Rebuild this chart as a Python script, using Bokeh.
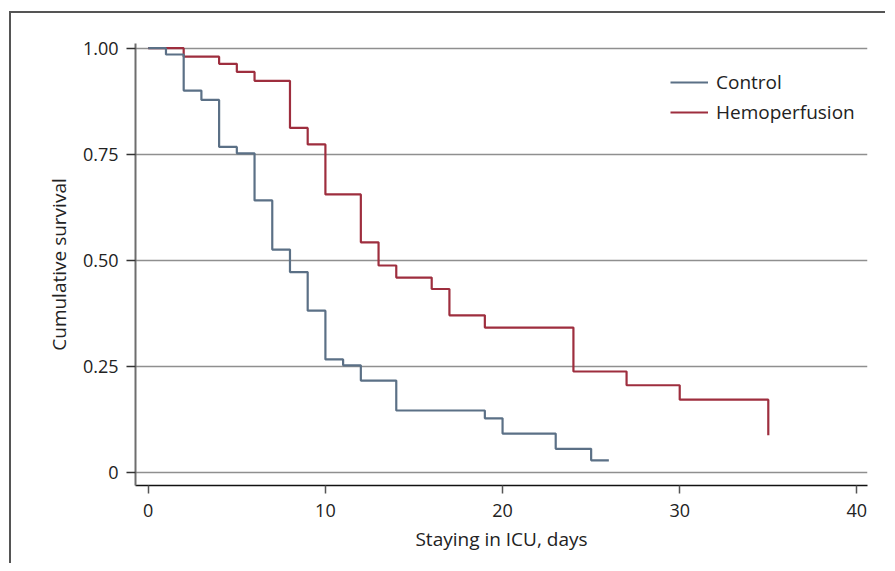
from bokeh.plotting import figure
from bokeh.models import FixedTicker, Range1d, Legend, LegendItem
from bokeh.embed import file_html
from bokeh.resources import INLINE

# Data
control_days = [0, 1, 2, 3, 4, 5, 6, 7, 8, 9, 10, 11, 12, 14, 19, 20, 23, 25, 26]
control_surv = [1.0, 0.985, 0.90, 0.878, 0.767, 0.752, 0.641, 0.525, 0.472, 0.381,
                0.266, 0.252, 0.216, 0.1455, 0.127, 0.091, 0.055, 0.028, 0.028]
hemo_days = [0, 2, 4, 5, 6, 8, 9, 10, 12, 13, 14, 16, 17, 19, 24, 27, 30, 35]
hemo_surv = [1.0, 0.980, 0.963, 0.944, 0.923, 0.812, 0.773, 0.655, 0.542, 0.4875,
             0.459, 0.432, 0.370, 0.341, 0.2375, 0.205, 0.171, 0.087]
x_ticks = [0, 10, 20, 30, 40]
y_ticks = [0, 0.25, 0.5, 0.75, 1.0]
y_tick_labels = {0: "0", 0.25: "0.25", 0.5: "0.50", 0.75: "0.75", 1.0: "1.00"}
series_names = ["Control", "Hemoperfusion"]

FONT = "Open Sans"
TXT = "#222222"
BLUE = "#5b7086"
RED = "#9e2e3e"

p = figure(width=876, height=552, output_backend="svg", toolbar_location=None,
           x_range=Range1d(-0.72, 40.6), y_range=Range1d(-0.0314, 1.011),
           min_border_left=124, min_border_right=20, min_border_top=30,
           min_border_bottom=80)
p.margin = (11, 0, 0, 9)
p.styles = {"border-left": "2px solid #555555", "border-top": "2px solid #555555"}
p.outline_line_color = None
p.background_fill_color = "white"
p.border_fill_color = "white"

p.xgrid.grid_line_color = None
p.ygrid.ticker = FixedTicker(ticks=y_ticks)
p.ygrid.grid_line_color = "#8f8f8f"
p.ygrid.grid_line_width = 1.5

p.xaxis.ticker = FixedTicker(ticks=x_ticks)
p.yaxis.ticker = FixedTicker(ticks=y_ticks)
p.yaxis.major_label_overrides = y_tick_labels
p.xaxis.minor_tick_line_color = None
p.yaxis.minor_tick_line_color = None

p.xaxis.axis_line_color = "#111111"
p.xaxis.axis_line_width = 1.5
p.xaxis.major_tick_line_color = "#555555"
p.xaxis.major_tick_line_width = 1.5
p.xaxis.major_tick_out = 8
p.xaxis.major_tick_in = 0
p.yaxis.axis_line_color = "#6e6e6e"
p.yaxis.axis_line_width = 2
p.yaxis.major_tick_line_color = "#333333"
p.yaxis.major_tick_line_width = 1.5
p.yaxis.major_tick_out = 9
p.yaxis.major_tick_in = 0

for ax in (p.xaxis, p.yaxis):
    ax.major_label_text_font = FONT
    ax.major_label_text_font_size = "18px"
    ax.major_label_text_color = TXT
    ax.axis_label_text_font = FONT
    ax.axis_label_text_font_size = "19px"
    ax.axis_label_text_font_style = "normal"
    ax.axis_label_text_color = TXT

p.xaxis.axis_label = "Staying in ICU, days"
p.yaxis.axis_label = "Cumulative survival"
p.xaxis.major_label_standoff = 10
p.yaxis.major_label_standoff = 8
p.xaxis.axis_label_standoff = 6
p.yaxis.axis_label_standoff = 8

r_hemo = p.step(hemo_days, hemo_surv, mode="after", line_color=RED, line_width=2.2)
r_ctrl = p.step(control_days, control_surv, mode="after", line_color=BLUE, line_width=2.2)

legend = Legend(items=[LegendItem(label=series_names[0], renderers=[r_ctrl]),
                       LegendItem(label=series_names[1], renderers=[r_hemo])],
                location=(535, 360))
legend.border_line_color = None
legend.background_fill_alpha = 0
legend.padding = 0
legend.margin = 0
legend.glyph_width = 38
legend.glyph_height = 24
legend.label_height = 24
legend.spacing = 4
legend.label_standoff = 8
legend.label_text_font = FONT
legend.label_text_font_size = "19px"
legend.label_text_color = TXT
p.add_layout(legend, "center")

open("out.html", "w").write(file_html(p, INLINE))
